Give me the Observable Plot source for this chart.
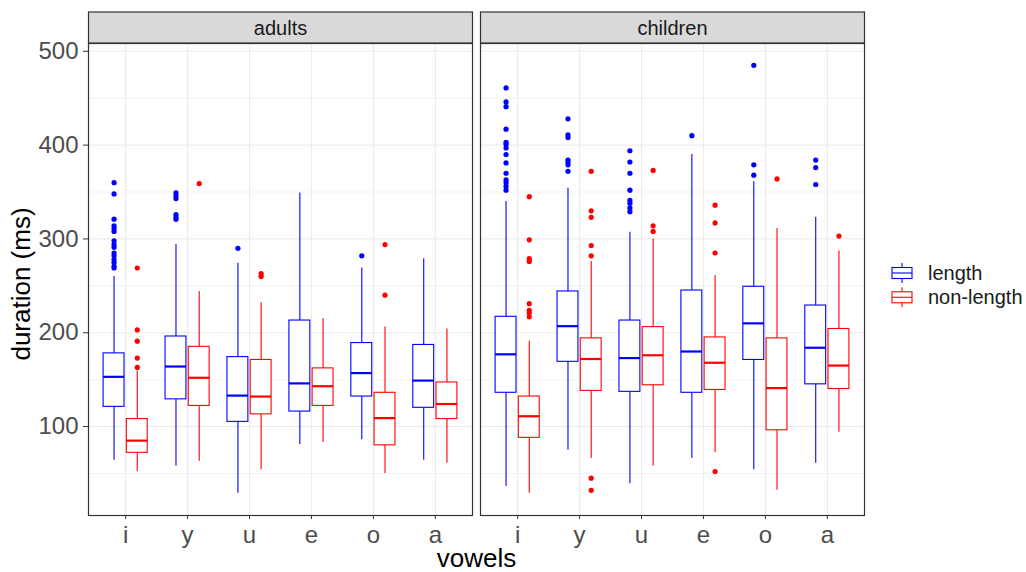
<!DOCTYPE html>
<html>
<head>
<meta charset="utf-8">
<script src="https://cdn.jsdelivr.net/npm/d3@7"></script>
<script src="https://cdn.jsdelivr.net/npm/@observablehq/plot@0.6"></script>
<style>
  html, body { margin: 0; padding: 0; background: #fff; }
  #chart { position: relative; width: 1026px; height: 572px; }
</style>
</head>
<body>
<div id="chart"></div>
<script>
// ---------- data ----------
const vowels = ["i", "y", "u", "e", "o", "a"];
const panels = ["adults", "children"];
const types = ["length", "non-length"];
const yTicks = [100, 200, 300, 400, 500];
const yMinor = [50, 150, 250, 350, 450];

// per vowel: [lower whisker, Q1, median, Q3, upper whisker]
const adultsLength = [
  [64, 121, 153, 178, 260],
  [58, 129, 164, 196, 294],
  [29, 105, 133, 174, 274],
  [81, 116, 146, 213, 349],
  [86, 132, 157, 189, 269],
  [64, 120, 149, 187, 279]
];
const adultsNonLength = [
  [52, 72, 85, 108, 159],
  [63, 122, 152, 185, 244],
  [54, 113, 132, 171, 232],
  [83, 122, 143, 162, 215],
  [50, 80, 109, 136, 206],
  [61, 108, 124, 147, 204]
];
const childrenLength = [
  [36, 136, 177, 217, 340],
  [75, 169, 207, 244, 354],
  [39, 137, 173, 213, 307],
  [66, 136, 180, 245, 390],
  [54, 171, 210, 249, 361],
  [61, 145, 184, 229, 323]
];
const childrenNonLength = [
  [29, 88, 111, 132, 191],
  [66, 138, 172, 194, 276],
  [58, 144, 176, 206, 300],
  [72, 139, 168, 195, 261],
  [32, 96, 141, 194, 311],
  [94, 140, 165, 204, 287]
];

// outliers per vowel
const adultsLengthOut = [
  [360, 348, 321, 314, 311, 308, 298, 294, 291, 285, 282, 278, 275, 271, 269],
  [349, 346, 343, 326, 323, 321],
  [290],
  [],
  [282],
  []
];
const adultsNonLengthOut = [
  [269, 203, 191, 173, 163],
  [359],
  [263, 260],
  [],
  [294, 240],
  []
];
const childrenLengthOut = [
  [461, 446, 441, 417, 403, 401, 397, 390, 381, 370, 363, 360, 356, 352],
  [428, 411, 408, 384, 382, 379, 372],
  [394, 382, 370, 352, 341, 338, 333, 329],
  [410],
  [485, 379, 368],
  [384, 376, 358]
];
const childrenNonLengthOut = [
  [345, 299, 279, 276, 231, 224, 221, 217],
  [372, 330, 323, 293, 282, 45, 32],
  [373, 314, 308],
  [336, 317, 285, 52],
  [364],
  [303]
];

const colors = ["#0000FF", "#FF0000"];

// ---------- build tables ----------
const dodge = 0.1875;      // half of dodge width (0.75 / 4)
const halfBox = 0.16875;   // half box width after padding
const series = [
  ["adults", "length", adultsLength, adultsLengthOut],
  ["adults", "non-length", adultsNonLength, adultsNonLengthOut],
  ["children", "length", childrenLength, childrenLengthOut],
  ["children", "non-length", childrenNonLength, childrenNonLengthOut]
];
const boxes = [];
const outliers = [];
for (const [panel, type, stats, outs] of series) {
  stats.forEach((s, i) => {
    const cx = i + 1 + (type === "length" ? -dodge : dodge);
    boxes.push({panel, type, vowel: vowels[i], cx, lo: s[0], q1: s[1], med: s[2], q3: s[3], hi: s[4]});
    outs[i].forEach(v => outliers.push({panel, type, vowel: vowels[i], cx, v}));
  });
}

const W = 1026, H = 572;
const mL = 88, mR = 161, mT = 43, mB = 57;
const font = "'Liberation Sans', Arial, sans-serif";

const chart = Plot.plot({
  width: W,
  height: H,
  marginLeft: mL,
  marginRight: mR,
  marginTop: mT,
  marginBottom: mB,
  style: {fontFamily: font, background: "white", overflow: "visible"},
  fx: {domain: panels, paddingInner: 8 / 392.5, paddingOuter: 0, axis: null, label: null},
  x: {domain: [0.4, 6.6], label: null},
  y: {domain: [5.2, 508.3], label: null},
  color: {domain: types, range: colors},
  marks: [
    Plot.gridY(yMinor, {stroke: "#EBEBEB", strokeOpacity: 1, strokeWidth: 0.6}),
    Plot.gridY(yTicks, {stroke: "#EBEBEB", strokeOpacity: 1, strokeWidth: 1.1}),
    Plot.gridX([1, 2, 3, 4, 5, 6], {stroke: "#EBEBEB", strokeOpacity: 1, strokeWidth: 1.1}),
    Plot.ruleX(boxes, {fx: "panel", x: "cx", y1: "q3", y2: "hi", stroke: "type", strokeWidth: 1.1}),
    Plot.ruleX(boxes, {fx: "panel", x: "cx", y1: "lo", y2: "q1", stroke: "type", strokeWidth: 1.1}),
    Plot.rect(boxes, {fx: "panel", x1: d => d.cx - halfBox, x2: d => d.cx + halfBox, y1: "q1", y2: "q3", fill: "white", stroke: "type", strokeWidth: 1.1}),
    Plot.ruleY(boxes, {fx: "panel", y: "med", x1: d => d.cx - halfBox, x2: d => d.cx + halfBox, stroke: "type", strokeWidth: 2.2}),
    Plot.dot(outliers, {fx: "panel", x: "cx", y: "v", fill: "type", r: 2.6, stroke: null}),
    Plot.frame({stroke: "#333333", strokeWidth: 1.2}),
    Plot.axisX({ticks: [1, 2, 3, 4, 5, 6], tickFormat: i => vowels[i - 1], tickSize: 4, tickPadding: 6, fontSize: 24, fill: "#4D4D4D", stroke: "#333333", label: null}),
    Plot.axisY({ticks: yTicks, tickSize: 5, tickPadding: 5, fontSize: 24, fill: "#4D4D4D", stroke: "#333333", label: null})
  ]
});

document.getElementById("chart").appendChild(chart);

// ---------- strips, titles, legend ----------
const svg = d3.select(chart);
const svgBox = chart.getBoundingClientRect();
const frames = Array.from(chart.querySelectorAll('g[aria-label="frame"] rect'));
frames.forEach((r, k) => {
  const b = r.getBoundingClientRect();
  const x = b.left - svgBox.left, w = b.width;
  const g = svg.append("g");
  g.append("rect").attr("x", x).attr("y", 12).attr("width", w).attr("height", 31)
    .attr("fill", "#D9D9D9").attr("stroke", "#333333").attr("stroke-width", 1.2);
  g.append("text").attr("x", x + w / 2).attr("y", 27.5).attr("dy", "0.35em")
    .attr("text-anchor", "middle").attr("font-family", font).attr("font-size", 20)
    .attr("fill", "#1A1A1A").text(panels[k]);
});

svg.append("text").attr("x", 476.5).attr("y", 567).attr("text-anchor", "middle")
  .attr("font-family", font).attr("font-size", 26).attr("fill", "#000").text("vowels");
svg.append("text").attr("transform", "translate(30,284) rotate(-90)").attr("text-anchor", "middle")
  .attr("font-family", font).attr("font-size", 26).attr("fill", "#000").text("duration (ms)");

const leg = svg.append("g").attr("text-anchor", "start");
types.forEach((t, i) => {
  const cy = 273 + 24.3 * i, x0 = 892, x1 = 912, cx = 902;
  const c = colors[i];
  leg.append("line").attr("x1", cx).attr("x2", cx).attr("y1", cy - 10).attr("y2", cy + 10).attr("stroke", c).attr("stroke-width", 1.1);
  leg.append("rect").attr("x", x0).attr("y", cy - 5.5).attr("width", x1 - x0).attr("height", 11)
    .attr("fill", "white").attr("stroke", c).attr("stroke-width", 1.1);
  leg.append("line").attr("x1", x0).attr("x2", x1).attr("y1", cy).attr("y2", cy).attr("stroke", c).attr("stroke-width", 1.1);
  leg.append("text").attr("x", 928).attr("y", cy).attr("dy", "0.35em").attr("text-anchor", "start")
    .attr("font-family", font).attr("font-size", 20).attr("fill", "#1A1A1A").text(t);
});
</script>
</body>
</html>
